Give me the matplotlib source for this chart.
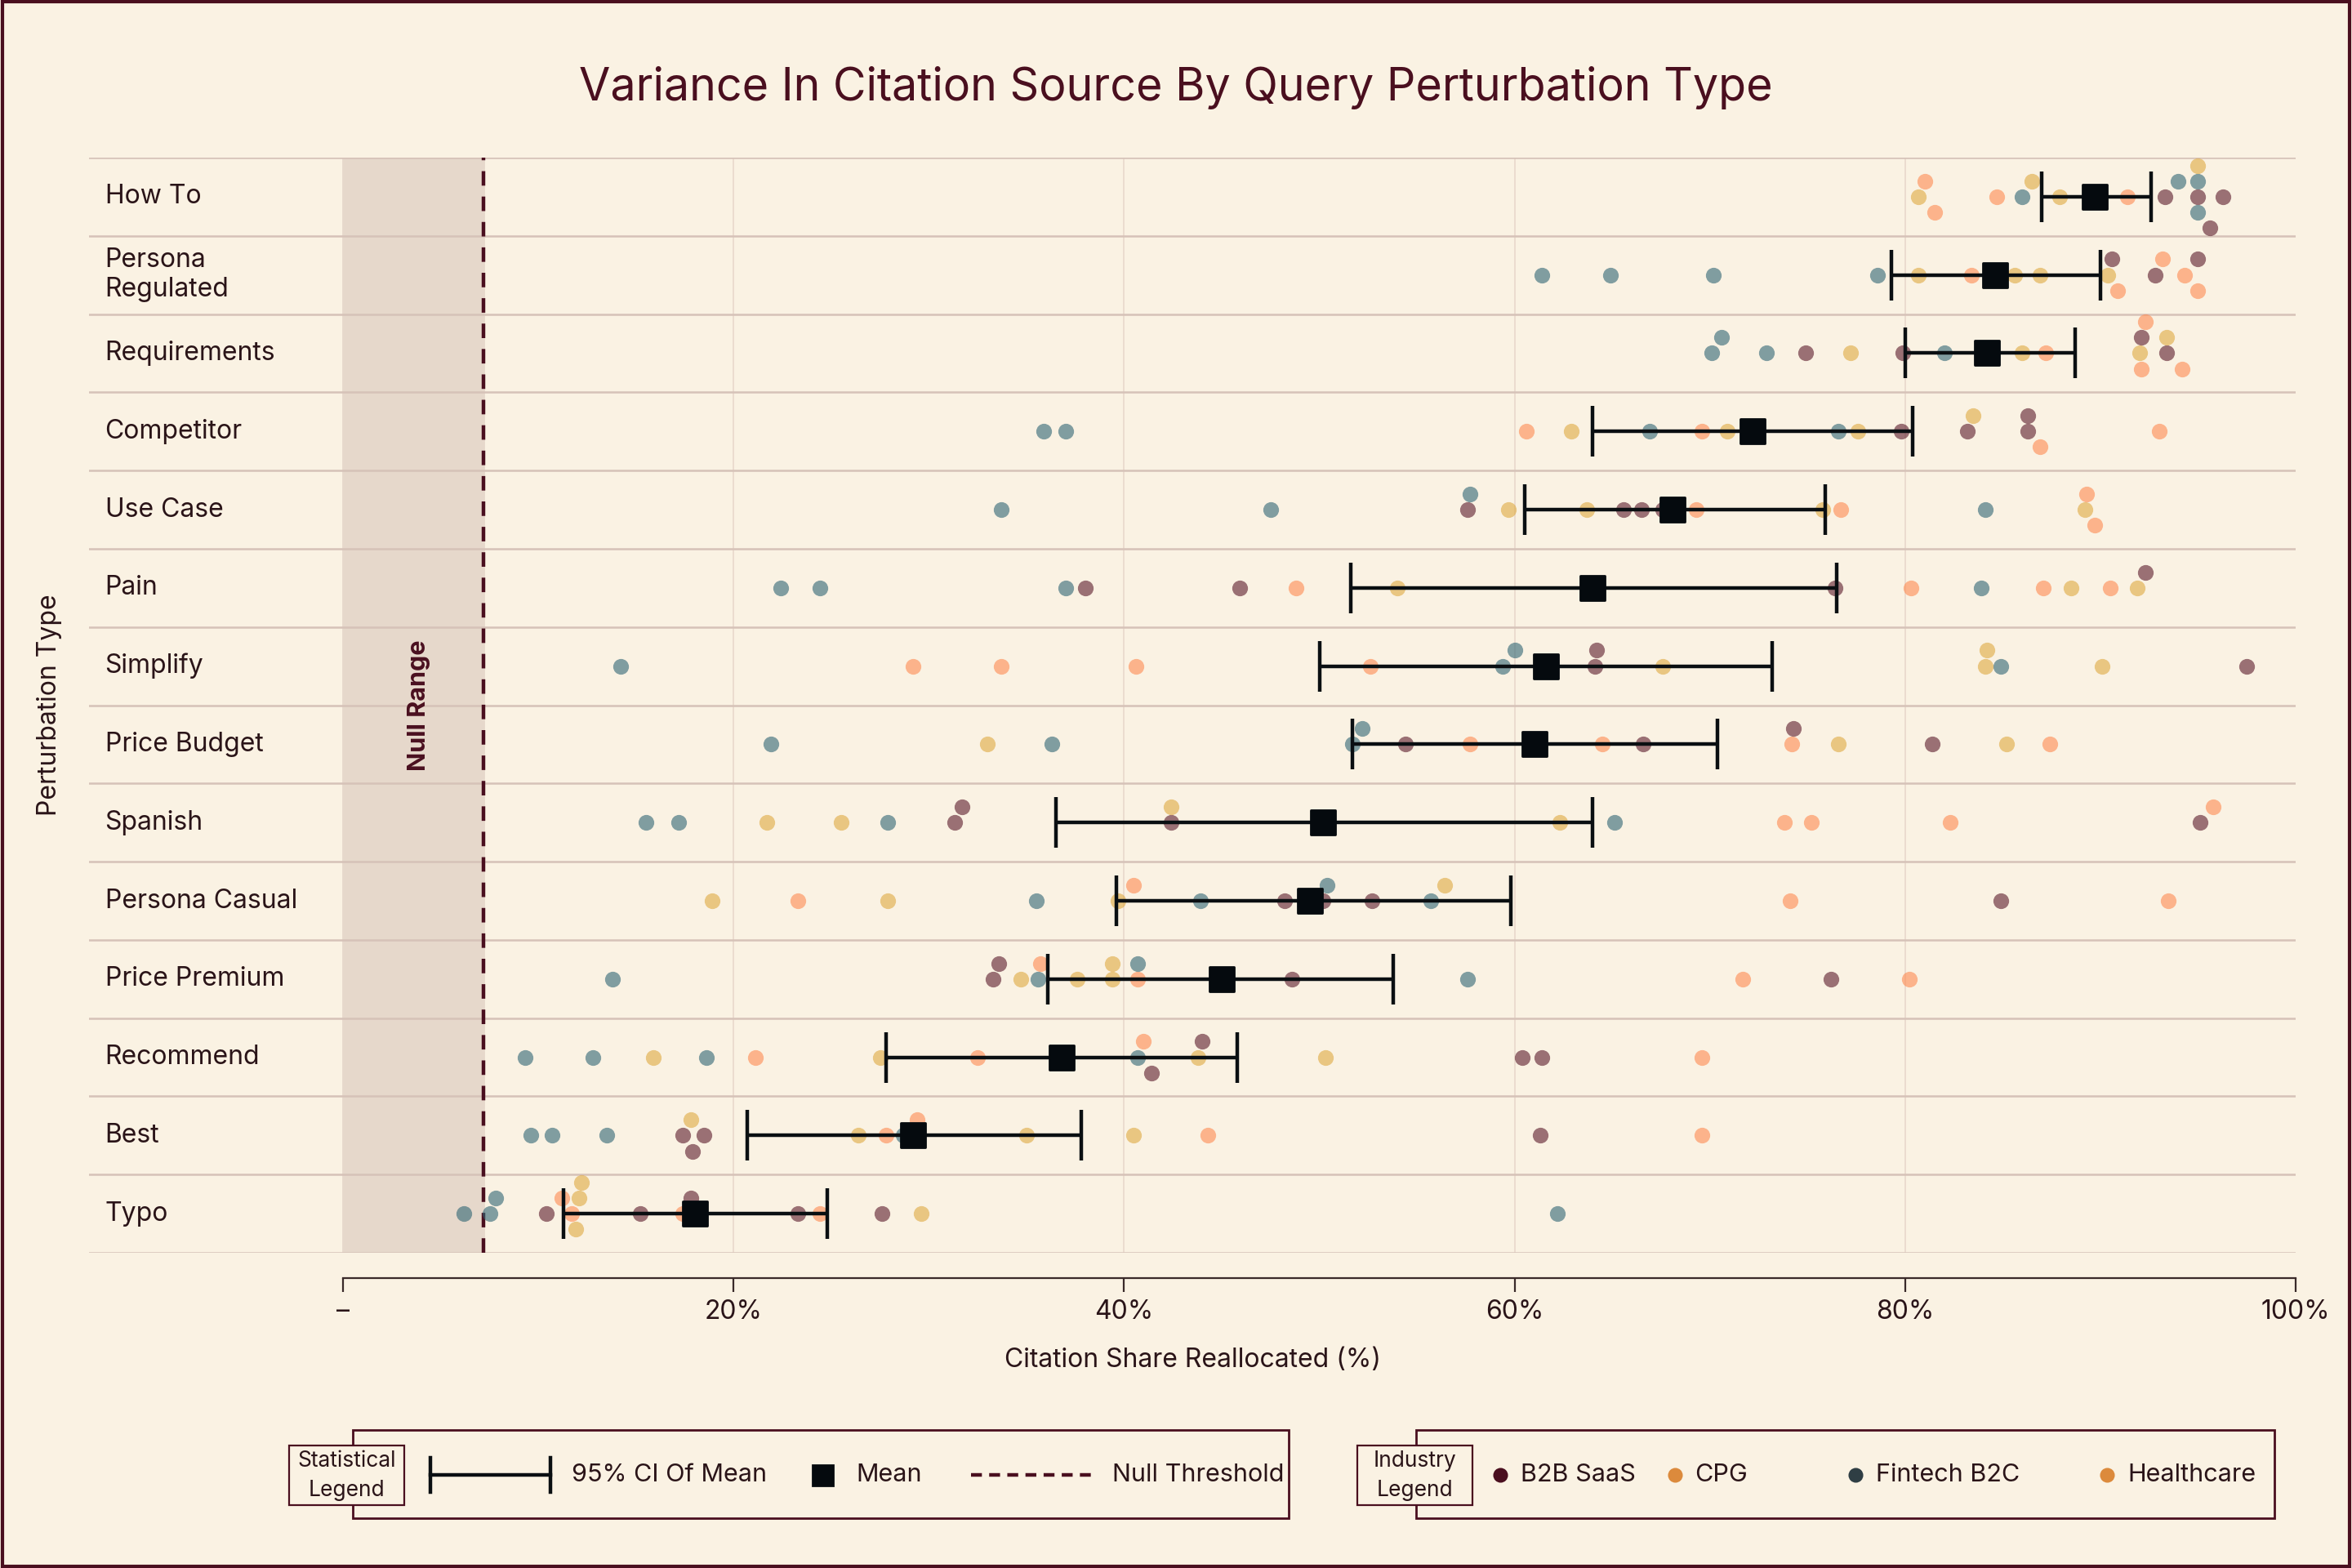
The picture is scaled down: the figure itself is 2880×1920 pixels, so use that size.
import matplotlib.pyplot as plt
from matplotlib.lines import Line2D
import numpy as np

plt.rcParams['font.family'] = ['Inter', 'DejaVu Sans']

rows = ["How To", "Persona\nRegulated", "Requirements", "Competitor", "Use Case", "Pain",
        "Simplify", "Price Budget", "Spanish", "Persona Casual", "Price Premium",
        "Recommend", "Best", "Typo"]

# B = B2B SaaS, C = CPG, F = Fintech B2C, H = Healthcare
points = [
    [(81.0, "C"), (80.7, "H"), (81.5, "C"), (84.7, "C"), (86.0, "F"), (86.5, "H"), (87.9, "H"),
     (91.4, "C"), (93.3, "B"), (94.0, "F"), (95, "H"), (95, "B"), (95, "F"), (95, "F"), (95.6, "B"), (96.3, "B")],
    [(61.4, "F"), (64.9, "F"), (70.2, "F"), (78.6, "F"), (80.7, "H"), (83.4, "C"), (85.6, "H"), (86.9, "H"),
     (90.4, "H"), (90.6, "B"), (90.9, "C"), (92.8, "B"), (93.2, "C"), (94.3, "C"), (95, "B"), (95, "C")],
    [(70.1, "F"), (70.6, "F"), (72.9, "F"), (74.9, "B"), (77.2, "H"), (79.9, "B"), (82.0, "F"), (86.0, "H"),
     (87.2, "C"), (92.0, "H"), (92.1, "C"), (92.1, "B"), (92.3, "C"), (93.4, "H"), (93.4, "B"), (94.2, "C")],
    [(35.9, "F"), (37.0, "F"), (60.6, "C"), (62.9, "H"), (66.9, "F"), (69.6, "C"), (70.9, "H"), (76.6, "F"),
     (77.6, "H"), (79.8, "B"), (83.2, "B"), (83.5, "H"), (86.3, "B"), (86.3, "B"), (86.9, "C"), (93.0, "C")],
    [(33.7, "F"), (47.5, "F"), (57.6, "B"), (57.7, "F"), (59.7, "H"), (63.7, "H"), (65.6, "B"), (66.5, "B"),
     (67.6, "B"), (69.3, "C"), (75.8, "H"), (76.7, "C"), (84.1, "F"), (89.2, "H"), (89.3, "C"), (89.7, "C")],
    [(22.4, "F"), (24.4, "F"), (37.0, "F"), (38.0, "B"), (45.9, "B"), (48.8, "C"), (54.0, "H"), (76.4, "B"),
     (80.3, "C"), (83.9, "F"), (87.1, "C"), (88.5, "H"), (90.5, "C"), (91.9, "H"), (92.3, "B")],
    [(14.2, "F"), (29.2, "C"), (33.7, "C"), (40.6, "C"), (52.6, "C"), (59.4, "F"), (60.0, "F"), (61.6, "B"),
     (64.1, "B"), (64.2, "B"), (67.6, "H"), (84.1, "H"), (84.2, "H"), (84.9, "F"), (90.1, "H"), (97.5, "B")],
    [(21.9, "F"), (33.0, "H"), (36.3, "F"), (51.7, "F"), (52.2, "F"), (54.4, "B"), (57.7, "C"), (64.5, "C"),
     (66.6, "B"), (74.2, "C"), (74.3, "B"), (76.6, "H"), (81.4, "B"), (85.2, "H"), (87.4, "C")],
    [(15.5, "F"), (17.2, "F"), (21.7, "H"), (25.5, "H"), (27.9, "F"), (31.3, "B"), (31.7, "B"), (42.4, "H"),
     (42.4, "B"), (62.3, "H"), (65.1, "F"), (73.8, "C"), (75.2, "C"), (82.3, "C"), (95.1, "B"), (95.8, "C")],
    [(18.9, "H"), (23.3, "C"), (27.9, "H"), (35.5, "F"), (39.7, "H"), (40.5, "C"), (43.9, "F"), (48.2, "B"),
     (50.2, "B"), (50.4, "F"), (52.7, "B"), (55.7, "F"), (56.4, "H"), (74.1, "C"), (84.9, "B"), (93.5, "C")],
    [(13.8, "F"), (33.3, "B"), (33.6, "B"), (34.7, "H"), (35.6, "F"), (35.7, "C"), (37.6, "H"), (39.4, "H"),
     (39.4, "H"), (40.7, "C"), (40.7, "F"), (48.6, "B"), (57.6, "F"), (71.7, "C"), (76.2, "B"), (80.2, "C")],
    [(9.3, "F"), (12.8, "F"), (15.9, "H"), (18.6, "F"), (21.1, "C"), (27.5, "H"), (32.5, "C"), (40.7, "F"),
     (41.0, "C"), (41.4, "B"), (43.8, "H"), (44.0, "B"), (50.3, "H"), (60.4, "B"), (61.4, "B"), (69.6, "C")],
    [(9.6, "F"), (10.7, "F"), (13.5, "F"), (17.4, "B"), (17.8, "H"), (17.9, "B"), (18.5, "B"), (26.4, "H"),
     (27.8, "C"), (28.7, "F"), (29.4, "C"), (35.0, "H"), (40.5, "H"), (44.3, "C"), (61.3, "B"), (69.6, "C")],
    [(6.2, "F"), (7.5, "F"), (7.8, "F"), (10.4, "B"), (11.2, "C"), (11.7, "C"), (11.9, "H"), (12.1, "H"),
     (12.2, "H"), (15.2, "B"), (17.4, "C"), (17.8, "B"), (23.3, "B"), (24.4, "C"), (27.6, "B"), (29.6, "H"),
     (62.2, "F")],
]

means = [89.7, 84.6, 84.2, 72.2, 68.1, 64.0, 61.6, 61.0, 50.2, 49.5, 45.0, 36.8, 29.2, 18.0]
ci_low = [87.0, 79.3, 80.0, 64.0, 60.5, 51.6, 50.0, 51.7, 36.5, 39.6, 36.1, 27.8, 20.7, 11.3]
ci_high = [92.6, 90.0, 88.7, 80.4, 75.9, 76.5, 73.2, 70.4, 64.0, 59.8, 53.8, 45.8, 37.8, 24.8]
null_threshold = 7.2

colors = {"B": "#5a1a2a", "C": "#ff8a50", "F": "#2f6574", "H": "#dfa940"}
legend_names = ["B2B SaaS", "CPG", "Fintech B2C", "Healthcare"]
legend_colors = ["#4a0f1f", "#dc8a3c", "#2f3e44", "#dc8a3c"]
bg = "#faf2e3"
maroon = "#4a0f1f"
txt = "#2a1418"

fig = plt.figure(figsize=(14.4, 9.6), dpi=200, facecolor=bg)
ax = fig.add_axes([0.038, 0.201, 0.938, 0.6985], facecolor=bg)

ax.axvspan(0, null_threshold, color="#e6d8cb", zorder=0)
ax.axvline(null_threshold, color=maroon, ls=(0, (4, 3)), lw=1.6, zorder=2)
ax.text(null_threshold / 2 + 0.3, 6.5, "Null Range", rotation=90, ha="center", va="center",
        fontsize=11, fontweight="bold", color=maroon)

for gx in [20, 40, 60, 80]:
    ax.axvline(gx, color="#e8d8cc", lw=0.6, zorder=0)
for i in range(len(rows) + 1):
    ax.axhline(i - 0.5, color="#d6c2b8", lw=0.9, zorder=1)

# simple beeswarm offsets
xr, ystep = 0.8, 0.2
for i, pts in enumerate(points):
    placed = []
    for x, ind in sorted(pts):
        for k in [0, -1, 1, -2, 2, -3, 3]:
            oy = k * ystep
            ok = all((x - px) ** 2 / xr ** 2 + (oy - py) ** 2 / ystep ** 2 >= 1 for px, py in placed)
            if ok:
                break
        placed.append((x, oy))
        ax.scatter(x, i + oy, s=48, color=colors[ind], alpha=0.6, lw=0, zorder=3)

y = np.arange(len(rows))
ax.errorbar(means, y, xerr=[np.array(means) - np.array(ci_low), np.array(ci_high) - np.array(means)],
            fmt="none", ecolor="#0a0f12", elinewidth=1.6, capsize=11, capthick=1.6, zorder=4)
ax.scatter(means, y, marker="s", s=110, color="#050a0e", zorder=5)

for i, r in enumerate(rows):
    ax.text(-12.2, i, r, ha="left", va="center", fontsize=11.5, color=txt)

ax.set_xlim(-13, 100)
ax.set_ylim(len(rows) - 0.5, -0.5)
ax.set_yticks([])
for s in ["top", "right", "left"]:
    ax.spines[s].set_visible(False)
ax.spines["bottom"].set_position(("outward", 11))
ax.spines["bottom"].set_bounds(0, 100)
ax.spines["bottom"].set_color("#3a2a2a")
ax.set_xticks([0, 20, 40, 60, 80, 100])
ax.set_xticklabels(["–", "20%", "40%", "60%", "80%", "100%"], fontsize=11.5, color=txt)
ax.tick_params(axis="x", length=6, color="#3a2a2a")
ax.set_xlabel("Citation Share Reallocated (%)", fontsize=11.5, color=txt, labelpad=10)
ax.set_ylabel("Perturbation Type", fontsize=11.5, color=txt, labelpad=12)

fig.suptitle("Variance In Citation Source By Query Perturbation Type", y=0.958, fontsize=20, color=maroon)

# legends drawn by hand in figure coordinates
tf = fig.transFigure
def box(x0, x1, y0, y1, lw=1.0):
    fig.patches.append(plt.Rectangle((x0, y0), x1 - x0, y1 - y0, transform=tf, fc=bg, ec=maroon, lw=lw, zorder=1))

ly = 0.0593
box(0.150, 0.548, 0.032, 0.088)
box(0.123, 0.172, 0.040, 0.078, lw=0.8)
fig.text(0.1475, 0.059, "Statistical\nLegend", ha="center", va="center", fontsize=9.5, color=txt, linespacing=1.5)
fig.lines.append(Line2D([0.183, 0.234], [ly, ly], transform=tf, color="#0a0f12", lw=1.6))
for cx in [0.183, 0.234]:
    fig.lines.append(Line2D([cx, cx], [ly - 0.011, ly + 0.011], transform=tf, color="#0a0f12", lw=1.6))
fig.text(0.243, ly, "95% CI Of Mean", va="center", fontsize=11, color=txt)
fig.lines.append(Line2D([0.3495], [ly], transform=tf, marker="s", markersize=9, color="#050a0e", ls="none"))
fig.text(0.364, ly, "Mean", va="center", fontsize=11, color=txt)
fig.lines.append(Line2D([0.413, 0.464], [ly, ly], transform=tf, color=maroon, ls=(0, (3, 2)), lw=1.6))
fig.text(0.473, ly, "Null Threshold", va="center", fontsize=11, color=txt)

box(0.602, 0.967, 0.032, 0.088)
box(0.577, 0.626, 0.040, 0.078, lw=0.8)
fig.text(0.6015, 0.059, "Industry\nLegend", ha="center", va="center", fontsize=9.5, color=txt, linespacing=1.5)
for xd, name, c in zip([0.638, 0.712, 0.789, 0.896], legend_names, legend_colors):
    fig.lines.append(Line2D([xd], [ly], transform=tf, marker="o", markersize=5.5, color=c, ls="none"))
    fig.text(xd + 0.0085, ly, name, va="center", fontsize=11, color=txt)

fig.patches.append(plt.Rectangle((0.001, 0.001), 0.998, 0.998, transform=tf, fill=False, ec=maroon, lw=1.5))

fig.savefig("out.png", dpi=200, facecolor=bg)
